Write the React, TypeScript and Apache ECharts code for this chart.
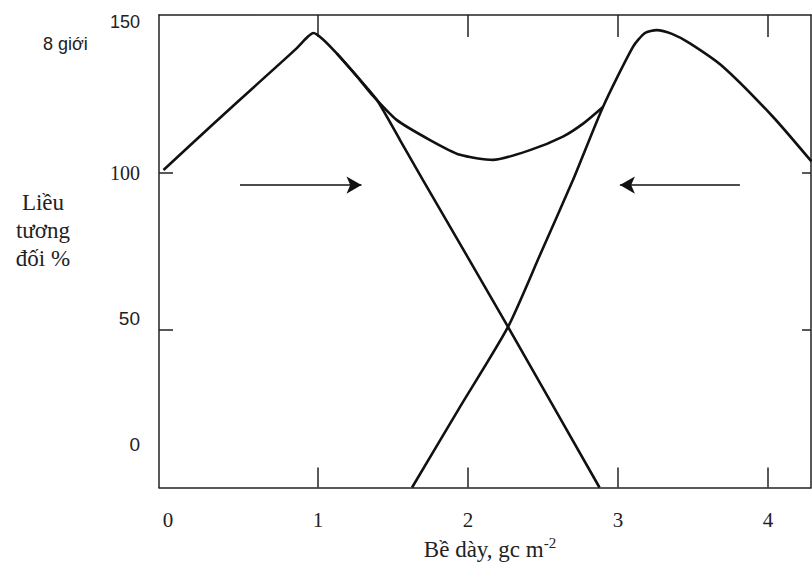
import React, { useEffect, useRef } from "react";
import * as echarts from "echarts";

// Tick values
const xLabelValues = [0, 1, 2, 3, 4];
const xTickValues = [1, 2, 3, 4];
const yLabelValues = [0, 50, 100, 150];
const yTickValuesLeft = [50, 100];
const yTickValuesRight = [50, 100];

// Dose curve from the left beam (thickness g/cm², relative dose %)
const leftBeam: [number, number][] = [
  [-0.03, 100.8], [0.3, 115.3], [0.6, 128.3], [0.85, 139.1], [0.93, 143.0],
  [0.97, 144.3], [1.03, 142.4], [1.125, 137.8], [1.26, 130.5], [1.393, 123.0],
  [1.547, 110.3], [1.7, 97.6], [2.267, 51.0], [2.877, 0],
];

// Dose curve from the right beam
const rightBeam: [number, number][] = [
  [1.627, 0], [1.947, 25.6], [2.267, 51.0], [2.48, 73.8], [2.7, 97.6],
  [2.9, 120.8], [3.1, 139.9], [3.18, 144.3], [3.258, 145.2], [3.36, 144.0],
  [3.48, 141.0], [3.7, 133.6], [4.033, 117.7], [4.29, 103.5],
];

// Summed dose
const sumDose: [number, number][] = [
  [1.125, 137.8], [1.26, 130.5], [1.367, 124.3], [1.524, 116.7], [1.747, 110.3],
  [1.947, 105.6], [2.167, 104.0], [2.413, 107.1], [2.633, 111.4], [2.77, 115.6],
  [2.9, 120.8],
];

// Beam direction arrows (start, end)
const arrowRight: [number, number][] = [[0.48, 96], [1.29, 96]];
const arrowLeft: [number, number][] = [[3.813, 96], [3.013, 96]];

const X_MIN = -0.06;
const X_MAX = 4.287;

export default function App() {
  const ref = useRef<HTMLDivElement>(null);
  useEffect(() => {
    if (!ref.current) return;
    const chart = echarts.init(ref.current, null, { renderer: "svg" });
    const frame = { show: true, onZero: false, lineStyle: { color: "#222", width: 1.5 } };
    const curve = (name: string, data: [number, number][], extra: any = {}) => ({
      name,
      type: "line",
      data,
      xAxisIndex: 0,
      yAxisIndex: 0,
      smooth: 0.22,
      showSymbol: false,
      symbol: "none",
      lineStyle: { color: "#111", width: 2.6 },
      clip: true,
      ...extra,
    });
    chart.setOption({
      animation: false,
      backgroundColor: "#fff",
      grid: { left: 159, right: 1, top: 15, bottom: 78.5, containLabel: false, outerBoundsMode: "none" },
      xAxis: [
        {
          type: "value",
          position: "bottom",
          min: X_MIN,
          max: X_MAX,
          axisLine: frame,
          splitLine: { show: false },
          axisTick: { show: true, inside: true, length: 20, customValues: xTickValues, lineStyle: { color: "#222", width: 1.5 } },
          axisLabel: {
            show: true,
            customValues: xLabelValues,
            margin: 22,
            fontFamily: "Liberation Serif",
            fontSize: 21,
            color: "#222",
          },
          name: "{a|Bề dày, gc m}{s|-2}",
          nameLocation: "middle",
          nameGap: 47,
          nameTextStyle: {
            padding: [0, 0, 0, 10],
            rich: {
              a: { fontFamily: "Liberation Serif", fontSize: 23, color: "#222" },
              s: { fontFamily: "Liberation Serif", fontSize: 15, color: "#222", padding: [0, 0, 14, 0] },
            },
          },
        },
        {
          type: "value",
          position: "top",
          min: X_MIN,
          max: X_MAX,
          axisLine: frame,
          splitLine: { show: false },
          axisTick: { show: true, inside: true, length: 22, customValues: xTickValues, lineStyle: { color: "#222", width: 1.5 } },
          axisLabel: { show: false },
        },
      ],
      yAxis: [
        {
          type: "value",
          position: "left",
          min: 0,
          max: 150,
          axisLine: frame,
          splitLine: { show: false },
          axisTick: { show: true, inside: true, length: 14, customValues: yTickValuesLeft, lineStyle: { color: "#222", width: 1.5 } },
          axisLabel: {
            show: true,
            customValues: yLabelValues,
            margin: 19,
            formatter: (v: number) => `{v${v}|${v}}`,
            rich: {
              v150: { fontFamily: "Liberation Sans", fontSize: 18, color: "#222", padding: [14, 0, 0, 0] },
              v100: { fontFamily: "Liberation Serif", fontSize: 20, color: "#222" },
              v50: { fontFamily: "Liberation Sans", fontSize: 19, color: "#222", padding: [0, 0, 24, 0] },
              v0: { fontFamily: "Liberation Sans", fontSize: 19, color: "#222", padding: [0, 0, 86, 0] },
            },
          },
        },
        {
          type: "value",
          position: "right",
          min: 0,
          max: 150,
          axisLine: frame,
          splitLine: { show: false },
          axisTick: { show: true, inside: true, length: 9, customValues: yTickValuesRight, lineStyle: { color: "#222", width: 1.5 } },
          axisLabel: { show: false },
        },
      ],
      graphic: [
        {
          type: "text",
          left: 43,
          top: 35,
          style: { text: "8 giới", fontFamily: "Liberation Sans", fontSize: 18, fill: "#222" },
        },
        {
          type: "text",
          x: 43,
          y: 230,
          style: {
            text: "Liều\ntương\nđối %",
            fontFamily: "Liberation Serif",
            fontSize: 23,
            lineHeight: 28,
            fill: "#222",
            align: "center",
            verticalAlign: "middle",
          },
        },
      ],
      series: [
        curve("Chùm trái", leftBeam, {
          markLine: {
            silent: true,
            symbol: ["none", "arrow"],
            symbolSize: [13, 15],
            label: { show: false },
            lineStyle: { color: "#111", width: 1.6, type: "solid" },
            data: [
              [{ coord: arrowRight[0] }, { coord: arrowRight[1] }],
              [{ coord: arrowLeft[0] }, { coord: arrowLeft[1] }],
            ],
          },
        }),
        curve("Chùm phải", rightBeam),
        curve("Tổng liều", sumDose),
      ],
    });
    return () => chart.dispose();
  }, []);
  return (
    <div
      ref={ref}
      style={{ position: "fixed", left: 0, top: 0, width: 812, height: 566, background: "#fff" }}
    />
  );
}
